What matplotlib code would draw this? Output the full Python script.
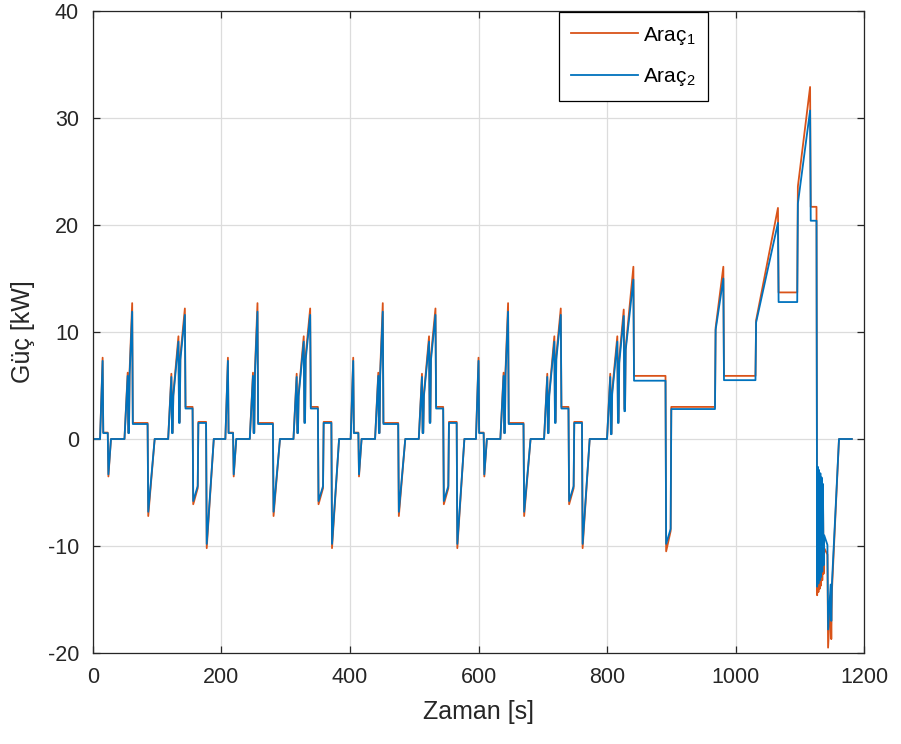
import numpy as np
import matplotlib
matplotlib.use("Agg")
import matplotlib.pyplot as plt

# ---- data ----
# one ECE-15 urban segment (time in s, power in kW), repeated four times
ece_time = [0, 11, 15, 16, 23, 24, 28, 49, 54, 55, 56, 57, 61, 62, 85, 86, 96,
            117, 122, 123, 124, 125, 133, 134, 135, 136, 143, 144, 155, 156,
            163, 164, 176, 177, 188, 195]
ece_p1 = [0, 0, 7.6, 0.6, 0.6, -3.5, 0, 0, 6.2, 0.6, 0.6, 6.4, 12.7, 1.5, 1.5,
          -7.2, 0, 0, 6.1, 0.6, 0.6, 4.2, 9.6, 1.6, 1.6, 7.8, 12.2, 3.0, 3.0,
          -6.1, -4.6, 1.6, 1.6, -10.2, 0, 0]
ece_p2 = [0, 0, 7.3, 0.55, 0.55, -3.3, 0, 0, 5.9, 0.55, 0.55, 6.0, 11.9, 1.4,
          1.4, -6.8, 0, 0, 5.8, 0.55, 0.55, 4.0, 9.1, 1.5, 1.5, 7.4, 11.6, 2.85,
          2.85, -5.8, -4.4, 1.5, 1.5, -9.8, 0, 0]
ece_starts = [0, 195, 390, 585]

# extra-urban segment
eudc_time = [780, 800, 805, 806, 807, 808, 816, 817, 818, 819, 826, 827, 828,
             829, 841, 842, 891, 892, 899, 900, 968, 969, 981, 982, 1031, 1032,
             1066, 1067, 1096, 1097, 1116, 1117, 1126, 1127, 1128, 1129, 1130,
             1131, 1132, 1133, 1134, 1135, 1136, 1137, 1138, 1143, 1144, 1148,
             1149, 1150, 1161, 1181]
eudc_p1 = [0, 0, 6.1, 0.5, 0.5, 4.5, 9.6, 1.6, 1.6, 7.5, 12.1, 2.8, 2.8, 8.5,
           16.1, 5.9, 5.9, -10.5, -8.6, 3.0, 3.0, 10.4, 16.1, 5.9, 5.9, 11.1,
           21.6, 13.7, 13.7, 23.6, 32.9, 21.7, 21.7, -14.6, -3.0, -14.3, -3.2,
           -14.0, -3.5, -13.7, -3.9, -13.2, -4.5, -12.6, -10.2, -10.8, -19.5,
           -14.6, -18.7, -14.2, 0, 0]
eudc_p2 = [0, 0, 5.8, 0.45, 0.45, 4.2, 9.1, 1.5, 1.5, 7.1, 11.5, 2.6, 2.6, 8.3,
           14.9, 5.45, 5.45, -9.8, -8.4, 2.8, 2.8, 10.2, 15.0, 5.5, 5.5, 10.9,
           20.2, 12.8, 12.8, 22.0, 30.7, 20.4, 20.4, -13.8, -2.6, -13.5, -2.9,
           -13.2, -3.2, -12.9, -3.6, -12.4, -4.2, -11.8, -9.0, -9.9, -17.8,
           -13.6, -17.0, -13.5, 0, 0]

series_labels = ['Araç$_1$', 'Araç$_2$']
x_ticks = [0, 200, 400, 600, 800, 1000, 1200]
y_ticks = [-20, -10, 0, 10, 20, 30, 40]

# ---- assemble ----
time = np.concatenate([np.array(ece_time) + s for s in ece_starts] + [np.array(eudc_time)])
p1 = np.concatenate([np.array(ece_p1)] * len(ece_starts) + [np.array(eudc_p1)])
p2 = np.concatenate([np.array(ece_p2)] * len(ece_starts) + [np.array(eudc_p2)])

plt.rcParams['font.family'] = ['Liberation Sans', 'DejaVu Sans']
plt.rcParams['mathtext.fontset'] = 'custom'
plt.rcParams['mathtext.rm'] = 'Liberation Sans'
plt.rcParams['mathtext.it'] = 'Liberation Sans'
plt.rcParams['axes.unicode_minus'] = False

fig = plt.figure(figsize=(9.01, 7.44), dpi=100)
ax = fig.add_axes([0.1032, 0.1223, 0.8558, 0.8629])

c1 = '#D95319'
c2 = '#0072BD'
ax.plot(time, p1, color=c1, lw=1.3, label=series_labels[0])
ax.plot(time, p2, color=c2, lw=1.3, label=series_labels[1])

ax.set_xlim(0, 1200)
ax.set_ylim(-20, 40)
ax.set_xticks(x_ticks)
ax.set_yticks(y_ticks)
ax.grid(True, color='#dcdcdc', lw=0.9)
ax.set_axisbelow(True)
ax.tick_params(direction='in', top=True, right=True, length=5, width=0.9,
               colors='#262626', labelsize=15.5)
ax.tick_params(axis='x', pad=10)
ax.tick_params(axis='y', pad=10)
for s in ax.spines.values():
    s.set_color('#262626')
    s.set_linewidth(0.9)

ax.set_xlabel('Zaman [s]', fontsize=18, color='#262626', labelpad=9)
ax.set_ylabel('Güç [kW]', fontsize=18, color='#262626', labelpad=9)

leg = ax.legend(loc='upper left', bbox_to_anchor=(0.6026, 1.0), fontsize=15,
                fancybox=False, framealpha=1, edgecolor='black',
                handlelength=3.2, borderpad=0.6, labelspacing=0.95,
                handletextpad=0.25, borderaxespad=0.05)
leg.get_frame().set_linewidth(0.9)

fig.savefig('out.png', dpi=100)
